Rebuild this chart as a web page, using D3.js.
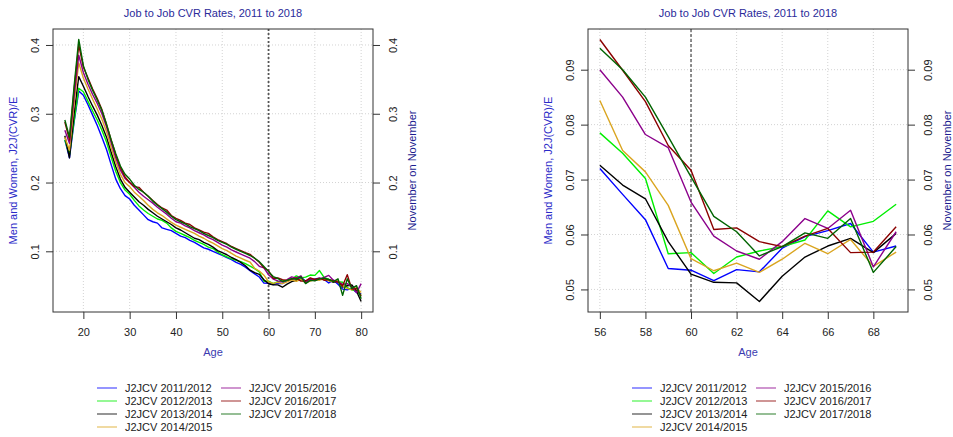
<!DOCTYPE html>
<html>
<head>
<meta charset="utf-8">
<script src="https://cdn.jsdelivr.net/npm/d3@7"></script>
<style>
  body { margin: 0; background: white; }
  text { font-family: "Liberation Sans", Arial, sans-serif; }
</style>
</head>
<body>
<div id="chart"></div>
<script>
const width = 953
const height = 437

// ages 16..80
const ages = d3.range(16, 81)

const j2jcv2011 = [0.262, 0.236, 0.288, 0.333, 0.327, 0.313, 0.298, 0.283, 0.266, 0.248,
  0.226, 0.205, 0.191, 0.181, 0.176, 0.167, 0.160, 0.153, 0.146, 0.143,
  0.141, 0.134, 0.132, 0.130, 0.126, 0.122, 0.120, 0.116, 0.113, 0.109,
  0.105, 0.103, 0.100, 0.097, 0.094, 0.091, 0.088, 0.084, 0.081, 0.077,
  0.0720, 0.0673, 0.0627, 0.0538, 0.0535, 0.0516, 0.0536, 0.0532, 0.0575, 0.0596,
  0.0607, 0.0620, 0.0568, 0.0579, 0.060, 0.061, 0.059, 0.054, 0.058, 0.052,
  0.045, 0.044, 0.046, 0.040, 0.038]
const j2jcv2012 = [0.262, 0.240, 0.290, 0.337, 0.332, 0.318, 0.304, 0.291, 0.276, 0.259,
  0.237, 0.216, 0.200, 0.189, 0.183, 0.174, 0.166, 0.160, 0.155, 0.151,
  0.147, 0.145, 0.141, 0.134, 0.129, 0.126, 0.123, 0.120, 0.116, 0.113,
  0.110, 0.106, 0.104, 0.099, 0.095, 0.092, 0.089, 0.087, 0.085, 0.082,
  0.0785, 0.0748, 0.0702, 0.0565, 0.0567, 0.0529, 0.0559, 0.0570, 0.0578, 0.0590,
  0.0643, 0.0614, 0.0624, 0.0655, 0.065, 0.072, 0.062, 0.059, 0.057, 0.056,
  0.055, 0.047, 0.044, 0.042, 0.036]
const j2jcv2013 = [0.268, 0.236, 0.300, 0.354, 0.340, 0.325, 0.311, 0.298, 0.283, 0.266,
  0.244, 0.223, 0.205, 0.193, 0.186, 0.179, 0.172, 0.167, 0.161, 0.156,
  0.151, 0.147, 0.143, 0.139, 0.134, 0.131, 0.127, 0.123, 0.119, 0.117,
  0.113, 0.110, 0.106, 0.101, 0.098, 0.095, 0.091, 0.088, 0.084, 0.079,
  0.0726, 0.0690, 0.0665, 0.0587, 0.0528, 0.0513, 0.0512, 0.0478, 0.0524, 0.0559,
  0.0579, 0.0593, 0.0567, 0.0602, 0.058, 0.060, 0.059, 0.058, 0.055, 0.057,
  0.048, 0.050, 0.051, 0.042, 0.027]
const j2jcv2014 = [0.266, 0.247, 0.315, 0.374, 0.352, 0.336, 0.321, 0.307, 0.292, 0.274,
  0.251, 0.230, 0.212, 0.200, 0.194, 0.186, 0.180, 0.174, 0.167, 0.161,
  0.156, 0.152, 0.147, 0.142, 0.138, 0.135, 0.132, 0.129, 0.126, 0.122,
  0.119, 0.115, 0.112, 0.108, 0.104, 0.101, 0.097, 0.093, 0.090, 0.087,
  0.0844, 0.0753, 0.0714, 0.0653, 0.0556, 0.0534, 0.0548, 0.0531, 0.0555, 0.0584,
  0.0565, 0.0591, 0.0542, 0.0568, 0.059, 0.058, 0.060, 0.057, 0.056, 0.058,
  0.050, 0.046, 0.044, 0.047, 0.040]
const j2jcv2015 = [0.276, 0.257, 0.325, 0.385, 0.360, 0.343, 0.328, 0.315, 0.300, 0.281,
  0.258, 0.236, 0.218, 0.206, 0.200, 0.193, 0.186, 0.180, 0.175, 0.170,
  0.164, 0.159, 0.154, 0.148, 0.143, 0.141, 0.137, 0.134, 0.130, 0.127,
  0.124, 0.120, 0.117, 0.113, 0.109, 0.106, 0.102, 0.099, 0.096, 0.093,
  0.0900, 0.0850, 0.0782, 0.0758, 0.0659, 0.0597, 0.0570, 0.0555, 0.0587, 0.0629,
  0.0611, 0.0644, 0.0541, 0.0605, 0.058, 0.060, 0.062, 0.065, 0.058, 0.056,
  0.052, 0.053, 0.048, 0.040, 0.053]
const j2jcv2016 = [0.288, 0.262, 0.335, 0.400, 0.368, 0.352, 0.336, 0.322, 0.306, 0.284,
  0.262, 0.240, 0.222, 0.208, 0.200, 0.194, 0.193, 0.186, 0.180, 0.174,
  0.168, 0.163, 0.160, 0.152, 0.148, 0.145, 0.141, 0.139, 0.134, 0.131,
  0.128, 0.126, 0.121, 0.117, 0.114, 0.111, 0.107, 0.104, 0.101, 0.098,
  0.0955, 0.0899, 0.0842, 0.0762, 0.0717, 0.0609, 0.0612, 0.0587, 0.0578, 0.0597,
  0.0611, 0.0567, 0.0568, 0.0614, 0.059, 0.061, 0.058, 0.059, 0.057, 0.055,
  0.050, 0.066, 0.045, 0.046, 0.035]
const j2jcv2017 = [0.291, 0.266, 0.340, 0.408, 0.370, 0.350, 0.334, 0.320, 0.305, 0.285,
  0.262, 0.242, 0.224, 0.212, 0.205, 0.196, 0.190, 0.186, 0.180, 0.173,
  0.167, 0.162, 0.157, 0.151, 0.146, 0.143, 0.140, 0.136, 0.133, 0.130,
  0.126, 0.123, 0.120, 0.116, 0.113, 0.110, 0.106, 0.103, 0.100, 0.097,
  0.0939, 0.0900, 0.0850, 0.0778, 0.0705, 0.0633, 0.0605, 0.0561, 0.0578, 0.0603,
  0.0593, 0.0629, 0.0531, 0.0578, 0.057, 0.060, 0.061, 0.059, 0.056, 0.060,
  0.036, 0.060, 0.046, 0.050, 0.031]

const seriesNames = ['J2JCV 2011/2012', 'J2JCV 2012/2013', 'J2JCV 2013/2014', 'J2JCV 2014/2015',
  'J2JCV 2015/2016', 'J2JCV 2016/2017', 'J2JCV 2017/2018']
const seriesValues = [j2jcv2011, j2jcv2012, j2jcv2013, j2jcv2014, j2jcv2015, j2jcv2016, j2jcv2017]
const seriesColors = ['#0000ff', '#00ee00', '#000000', '#daa520', '#8b008b', '#8b0000', '#006400']

const leftXTicks = [20, 30, 40, 50, 60, 70, 80]
const leftYTicks = [0.1, 0.2, 0.3, 0.4]
const rightXTicks = [56, 58, 60, 62, 64, 66, 68]
const rightYTicks = [0.05, 0.06, 0.07, 0.08, 0.09]
const refAge = 60

const titleText = 'Job to Job CVR Rates, 2011 to 2018'
const yLabelLeft = 'Men and Women, J2J(CVR)/E'
const yLabelRight = 'November on November'

const svg = d3.select('#chart').append('svg')
    .attr('width', width)
    .attr('height', height)
    .style('background', 'white')

function drawPanel(p){
    const g = svg.append('g')
    const x0 = p.left, x1 = p.left + 320, y0 = 29, y1 = 312

    // subset of points in this panel's age range
    const rows = seriesValues.map(vals =>
        ages.map((a, i) => ({age: a, v: vals[i]})).filter(d => d.age >= p.ageMin && d.age <= p.ageMax))
    const allV = rows.flat().map(d => d.v)
    const [vmin, vmax] = d3.extent(allV)
    const padY = (vmax - vmin) * 0.04
    const padX = (p.ageMax - p.ageMin) * 0.04

    const x = d3.scaleLinear().domain([p.ageMin - padX, p.ageMax + padX]).range([x0, x1])
    const y = d3.scaleLinear().domain([vmin - padY, vmax + padY]).range([y1, y0])

    // grid
    g.selectAll('.vgrid').data(p.xticks).join('line')
        .attr('x1', d => x(d)).attr('x2', d => x(d))
        .attr('y1', y0).attr('y2', y1)
        .attr('stroke', '#d3d3d3').attr('stroke-dasharray', '1,2')
    g.selectAll('.hgrid').data(p.yticks).join('line')
        .attr('y1', d => y(d)).attr('y2', d => y(d))
        .attr('x1', x0).attr('x2', x1)
        .attr('stroke', '#d3d3d3').attr('stroke-dasharray', '1,2')

    // reference line at 60
    g.append('line')
        .attr('x1', x(refAge)).attr('x2', x(refAge))
        .attr('y1', y0).attr('y2', y1)
        .attr('stroke', p.refColor).attr('stroke-width', p.refWidth)
        .attr('stroke-dasharray', p.refDash)

    const line = d3.line().x(d => x(d.age)).y(d => y(d.v))
    rows.forEach((r, i) => {
        g.append('path').datum(r)
            .attr('d', line)
            .attr('fill', 'none')
            .attr('stroke', seriesColors[i])
            .attr('stroke-width', 1.4)
            .attr('stroke-linejoin', 'round')
    })

    // box
    g.append('rect')
        .attr('x', x0).attr('y', y0)
        .attr('width', x1 - x0).attr('height', y1 - y0)
        .attr('fill', 'none').attr('stroke', '#333').attr('stroke-width', 1)

    // axes
    g.append('g').attr('transform', `translate(0,${y1})`)
        .call(d3.axisBottom(x).tickValues(p.xticks).tickSize(7).tickPadding(9))
    // tick text sits inside each tick group, so rotate around a local point
    g.append('g').attr('transform', `translate(${x0},0)`)
        .call(d3.axisLeft(y).tickValues(p.yticks).tickSize(7).tickFormat(d3.format(p.fmt)))
        .selectAll('text')
        .attr('x', 0).attr('y', 0).attr('dy', '0.35em')
        .attr('transform', 'translate(-18,0) rotate(-90)')
        .attr('text-anchor', 'middle')
    g.append('g').attr('transform', `translate(${x1},0)`)
        .call(d3.axisRight(y).tickValues(p.yticks).tickSize(7).tickFormat(d3.format(p.fmt)))
        .selectAll('text')
        .attr('x', 0).attr('y', 0).attr('dy', '0.35em')
        .attr('transform', 'translate(20,0) rotate(-90)')
        .attr('text-anchor', 'middle')
    g.selectAll('.domain').remove()
    g.selectAll('.tick line').attr('stroke', '#333')
    g.selectAll('.tick text').attr('fill', '#222').style('font-size', '11px')
        .style('font-family', '"Liberation Sans", Arial, sans-serif')

    // titles
    const mid = (x0 + x1) / 2
    g.append('text').attr('x', mid).attr('y', 17).attr('text-anchor', 'middle')
        .attr('fill', '#2a2a9a').style('font-size', '11px').text(titleText)
    g.append('text').attr('x', mid).attr('y', 356).attr('text-anchor', 'middle')
        .attr('fill', '#3a3ab0').style('font-size', '11px').text('Age')
    const cy = (y0 + y1) / 2
    g.append('text').attr('transform', `translate(${x0 - 40},${cy}) rotate(-90)`)
        .attr('text-anchor', 'middle').attr('dy', '0.35em')
        .attr('fill', '#2a2ac8').style('font-size', '11px').text(yLabelLeft)
    g.append('text').attr('transform', `translate(${x1 + 39},${cy}) rotate(-90)`)
        .attr('text-anchor', 'middle').attr('dy', '0.35em')
        .attr('fill', '#1c1c90').style('font-size', '11px').text(yLabelRight)

    // legend
    const legX = p.legend
    const rowY = [388, 401, 414, 427]
    seriesNames.forEach((name, i) => {
        const col = i < 4 ? 0 : 1
        const row = i < 4 ? i : i - 4
        const lx = legX + col * 124
        const ly = rowY[row]
        g.append('line')
            .attr('x1', lx).attr('x2', lx + 20)
            .attr('y1', ly).attr('y2', ly)
            .attr('stroke', seriesColors[i]).attr('stroke-opacity', 0.6)
            .attr('stroke-width', 1.4)
        g.append('text').attr('x', lx + 28).attr('y', ly).attr('dy', '0.35em')
            .attr('fill', '#222').style('font-size', '11px').text(name)
    })
}

drawPanel({left: 53, ageMin: 16, ageMax: 80, xticks: leftXTicks, yticks: leftYTicks, fmt: '.1f',
    refColor: '#555', refWidth: 1.8, refDash: '2,2', legend: 97})
drawPanel({left: 588, ageMin: 56, ageMax: 69, xticks: rightXTicks, yticks: rightYTicks, fmt: '.2f',
    refColor: '#222', refWidth: 1, refDash: '3,2', legend: 632})
</script>
</body>
</html>
